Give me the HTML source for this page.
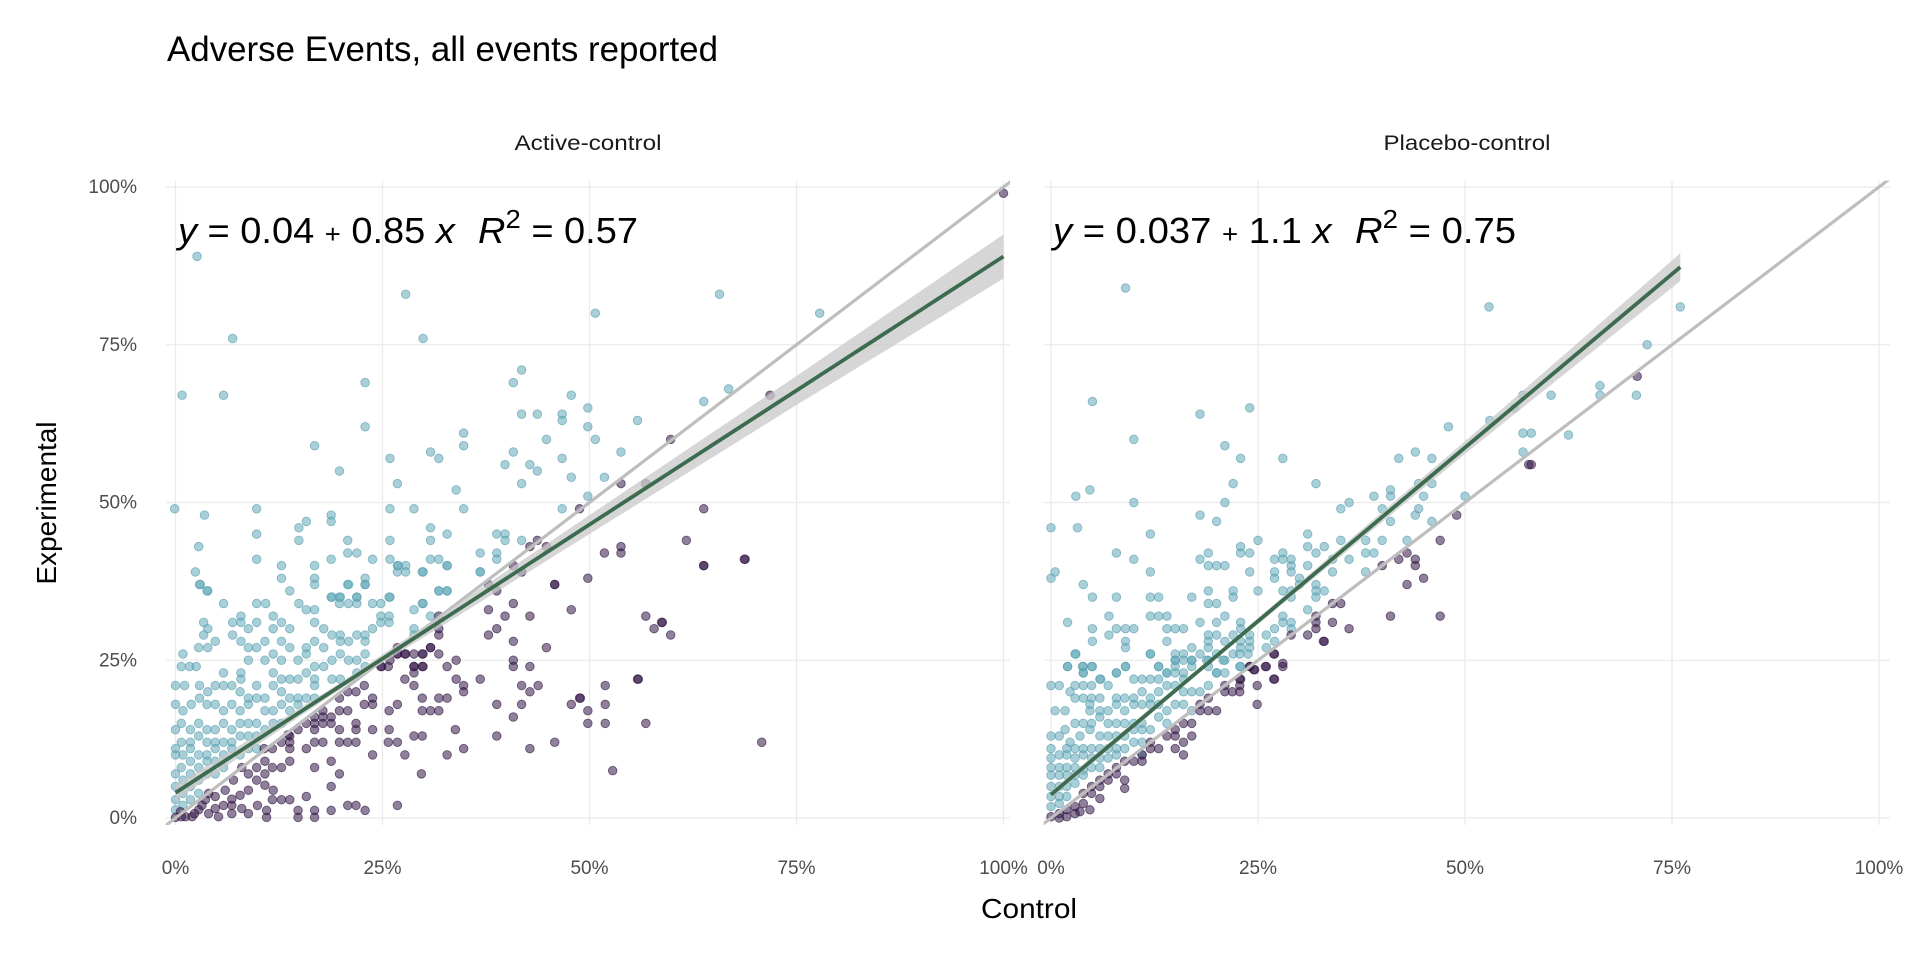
<!DOCTYPE html>
<html><head><meta charset="utf-8">
<style>
html,body{margin:0;padding:0;background:#fff;}
svg{display:block;}
.t{font-family:"Liberation Sans Narrow","Liberation Sans",sans-serif;}
.eq{font-family:"Liberation Sans",sans-serif;}
</style></head>
<body>
<svg id="chart" width="1920" height="960" viewBox="0 0 1920 960">
<defs>
<clipPath id="clipA"><rect x="165.7" y="180.6" width="844.3" height="644.4"/></clipPath>
<clipPath id="clipP"><rect x="1043.7" y="180.6" width="846.3" height="644.4"/></clipPath>
</defs>
<text class="t" x="167" y="61" font-size="35" fill="#000" textLength="551" lengthAdjust="spacingAndGlyphs">Adverse Events, all events reported</text>
<text class="t" x="588" y="150" font-size="21" fill="#1a1a1a" text-anchor="middle" textLength="147" lengthAdjust="spacingAndGlyphs">Active-control</text>
<text class="t" x="1467" y="150" font-size="21" fill="#1a1a1a" text-anchor="middle" textLength="167" lengthAdjust="spacingAndGlyphs">Placebo-control</text>
<text class="t" x="1029" y="918" font-size="28" fill="#000" text-anchor="middle" textLength="96" lengthAdjust="spacingAndGlyphs">Control</text>
<text class="t" x="0" y="0" font-size="28" fill="#000" text-anchor="middle" textLength="163" lengthAdjust="spacingAndGlyphs" transform="translate(56,503) rotate(-90)">Experimental</text>
<g id="grid"></g>
<g id="panelA" clip-path="url(#clipA)"></g>
<g id="panelP" clip-path="url(#clipP)"></g>
<g id="labels"></g>
</svg>
<script>
const ticks = [0, 25, 50, 75, 100];
const tickLabels = ["0%", "25%", "50%", "75%", "100%"];
const fitActive = [4.0, 0.85];
const fitPlacebo = [3.7, 1.1];
const fitRangeActive = [0, 100];
const fitRangePlacebo = [0, 76];
const bandXActive = [0, 20, 50, 75, 100];
const bandSEActive = [1.2, 0.5, 1.5, 2.3, 3.5];
const bandXPlacebo = [0, 20, 50, 76];
const bandSEPlacebo = [0.6, 0.4, 1.0, 2.2];
const activeAbove = [[2.6,89],[27.8,83],[29.9,76],[6.9,76],[50.7,80],[65.7,83],[77.8,80],[0.8,67],[5.8,67],[22.9,69],[41.8,71],[40.8,69],[47.8,67],[66.8,68],[63.8,66],[41.8,64],[43.7,64],[46.7,64],[46.7,63],[49.8,65],[49.8,62],[50.7,60],[55.8,63],[22.9,62],[16.8,59],[34.8,61],[34.8,59],[44.8,60],[19.8,55],[25.9,57],[30.8,58],[31.8,57],[40.8,58],[39.8,56],[42.8,56],[43.7,55],[46.7,57],[47.8,54],[51.8,54],[53.8,58],[26.8,53],[41.8,53],[33.9,52],[49.8,51],[-0.1,49],[3.5,48],[9.8,49],[25.9,49],[28.8,49],[34.8,49],[46.7,49],[2.8,43],[9.8,45],[14.9,46],[15.8,47],[18.8,48],[18.8,47],[14.9,44],[20.8,44],[25.9,44],[30.8,46],[30.8,44],[32.8,45],[38.8,45],[39.8,45],[39.8,44],[41.8,44],[2.4,39],[9.8,41],[12.8,40],[16.8,40],[18.8,41],[20.8,42],[21.9,42],[23.8,41],[25.9,41],[26.8,40],[27.8,40],[26.8,39],[29.9,39],[30.8,41],[31.8,41],[32.8,40],[36.8,42],[36.8,39],[38.8,42],[38.8,41],[3,37],[3.9,36],[12.8,38],[16.8,38],[16.8,37],[22.9,38],[22.9,37],[20.8,37],[13.8,36],[5.8,34],[9.8,34],[10.9,34],[14.9,34],[18.8,35],[19.8,35],[19.8,34],[21.9,35],[21.9,34],[23.8,34],[25.9,35],[29.9,34],[31.8,36],[32.8,36],
[26.9,40],[27.8,39],[32.8,40],[36.8,39],[29.8,39],[2.9,37],[3.8,36],[20.9,37],[22.9,37],[31.8,36],[32.8,36],[15.8,33],[16.8,33],[18.9,35],[19.9,35],[20.9,34],[21.9,35],[24.8,34],[25.8,35],[28.8,33],[29.8,34],[30.8,32],[3.4,31],[3.9,30],[6.9,31],[7.9,32],[7.9,31],[8.8,30],[9.8,31],[11.8,32],[12.8,31],[11.8,30],[13.8,30],[16.8,31],[17.9,30],[18.9,29],[19.9,29],[19.9,28],[20.9,28],[21.9,29],[22.9,29],[22.9,28],[23.8,30],[24.8,32],[24.8,31],[25.8,32],[25.8,31],[28.8,30],[28.8,29],[3.4,29],[4.8,28],[2.8,27],[3.9,27],[0.9,26],[6.9,29],[7.9,28],[8.8,27],[9.8,27],[10.8,28],[12.8,28],[13.8,27],[15.8,27],[15.8,26],[16.8,28],[17.9,27],[18.9,25],[19.9,26],[20.9,25],[21.9,25],[22.9,26],[8.8,25],[10.8,25],[11.8,26],[12.8,25],[14.8,25],[16.8,24],[17.9,24],[0.7,24],[1.7,24],[2.5,24],[5.8,23],[7.9,22],[7.9,23],[9.8,21],[11.8,23],[11.8,21],[12.8,22],[13.8,22],[14.8,22],[15.8,23],[16.8,22],[18.9,22],[19.9,22],[21.9,23],[22.9,24],[0,21],[1.1,21],[2.9,21],[3.9,20],[4.8,21],[5.8,21],[6.8,21],[7.8,20],[8.8,19],[9.8,19],[10.8,19],[12.8,20],[13.8,19],[14.8,19],[15.8,19],[16.8,21],[16.8,19],[0,18],[0.9,17],[1.9,18],[2.9,19],[3.8,18],[4.8,18],[5.8,17],[6.8,18],[7.8,17],[8.8,18],[10.8,17],[11.8,17],[12.8,18],[13.8,17],[14.8,18],[0,14],[0.7,15],[1.8,14],[2.8,15],[3.8,14],[4.8,14],[5.8,15],[6.8,14],[7.8,15],[8.8,15],[9.8,15],[10.8,14],[11.8,15],[12.8,15],[9.8,13],[8.8,13],[7.8,13],[6.8,12],[5.8,12],[4.8,12],[3.8,12],[2.8,13],[1.8,12],[0.7,12],[0,11],[0.9,10],[0,10],[1.8,11],[2.8,10],[3.8,10],[4.8,11],[5.8,10],[6.8,11],[7.8,10],[8.8,11],[9.8,11],[3.8,9],[4.8,9],[5.8,8],[2.8,8],[1.8,9],[0.7,8],[0,7],[0.9,6],[1.8,7],[2.8,6],[3.8,7],[4.8,7],[0,5],[0.9,3.9],[0,2.9],[1.8,5],[2.8,3.9],[0.9,2],[0,1.3],[1.8,2.9]];
const activeBelow = [[100,99],[59.8,60],[71.8,67],[53.8,53],[56.8,53],[48.8,49],[63.8,49],[43.7,44],[42.8,43],[44.8,43],[61.7,44],[51.8,42],[53.8,43],[53.8,42],[68.8,41],[63.8,40],[40.8,40],[41.8,39],[49.8,38],[45.8,37],[37.8,37],[38.8,36],[40.8,34],[37.8,33],[47.8,33],[39.8,32],[42.8,32],[56.8,32],[58.8,31],[57.8,30],[59.8,29],[31.8,32],[31.8,30],[31.8,29],[37.8,29],[38.8,30],[40.8,28],[44.8,27],[30.8,27],[26.8,27],[26.8,26],[27.8,26],[29.9,26],[31.8,26],[33.9,25],[32.8,24],[40.8,25],[40.8,24],[42.8,24],[28.8,24],[29.9,24],[25.9,25],[24.9,24],[55.8,22],
[63.8,40],[68.7,41],[58.7,31],[55.9,22],[51.9,21],[48.9,19],[51.9,18],[49.8,17],[49.8,15],[51.9,15],[56.8,15],[70.8,12],[52.8,7.5],
[41.8,39],[45.8,37],[43.8,21],[42.8,20],[48.8,19],[47.8,18],[41.8,18],[38.8,18],[40.8,16],[33.8,14],[38.8,13],[45.8,12],[42.8,11],[34.8,11],[32.8,10],[29.7,7],[26.8,2],[27.7,10],[29.8,13],[28.8,13],[25.7,12],[26.8,12],[30.8,17],[31.8,17],[29.8,17],[29.8,19],[31.8,19],[32.8,19],[28.8,21],[27.7,22],[28.8,23],[29.8,24],[28.8,24],[30.8,27],[29.8,26],[28.8,26],[27.7,26],[26.8,26],[25.7,24],[24.8,24],[36.8,22],[33.9,22],[34.8,21],[34.8,20],[41.8,21],[26.8,18],[25.8,17],[23.8,14],[25.8,14],[23.8,10],[21.8,12],[20.8,12],[19.8,12],[21.8,14],[19.8,14],[20.8,17],[21.8,15],[18.8,15],[17.8,15],[16.8,15],[15.8,15],[18.8,16],[17.8,16],[16.8,16],[20.8,20],[21.8,20],[22.8,21],[23.8,19],[23.8,18],[22.8,18],[19.8,19],[19.8,17],[17.8,17],[16.8,14],[14.8,14],[13.8,13],[13.8,12],[12.8,12],[11.7,11],[10.7,11],[13.8,11],[15.8,11],[17.8,12],[16.8,12],[18.8,9],[13.8,9],[11.7,8],[12.8,8],[16.8,8],[19.8,7],[18.8,5],[15.8,3.4],[14.8,1.2],[16.8,1.2],[14.8,0.1],[16.8,0.1],[18.8,1.2],[20.8,2],[21.8,2],[22.9,1.2],[11,0.1],[11,1.2],[9.9,2],[12.8,2.9],[13.8,2.9],[11.7,2.9],[11.8,4.4],[10.8,5.2],[9.8,6],[8.8,7],[9.8,8],[10.8,7],[10.8,9],[8,8],[7,6],[6.8,3],[6,4.4],[4.8,3.4],[4,3.9],[3.2,2],[2.3,0.7],[1.2,0.2],[0,0.1],[4,0.7],[5.2,0.2],[6.8,0.7],[8,1.5],[8.8,4.4],[7.8,3.6],[6.8,2],[5.8,2],[4.8,1.5],[3.6,2.9],[2.8,1.3],[2,0.2],[0.6,1],[0.7,0.2],[8.8,0.7],[13.6,13.2]];
const placeboAbove = [[9,84],[52.9,81],[5,66],[18,64],[24,65],[10,60],[21,59],[22.9,57],[28,57],[22,53],[32,53],[3,51],[4.7,52],[10,50],[21,50],[0,46],[3.2,46],[12,45],[18,48],[20,47],[25,44],[7.9,42],[10,41],[12,39],[0,38],[0.5,39],[3.9,37],[5,35],[7.9,35],[12,35],[13,35],[2,31],[5,30],[5,28],[7,32],[7.9,30],[9,30],[10,30],[9,28],[9,27],[7,29],[12,32],[13,32],[14,32],[14,30],[15,30],[16,30],[14,28],[12,26],[3,26],[2,24],[3.9,24],[5,24],[3.9,23],[7.9,23],[9,24],[6,22],[17,35],[19,42],[18,41],[19,40],[20,40],[21,40],[22.9,42],[22.9,43],[24,42],[24,39],[22,36],[22,35],[19,36],[19,34],[20,34],[25,36],[21,32],[18,31],[20,31],[22.9,31],[22.9,30],[19,29],[20,29],[22,29],[24,29],[19,28],[21,28],[22.9,28],[24,28],[17,27],[19,27],[22.9,27],[24,27],[16,26],[15,26],[18,26],[20,26],[22,26],[15,25],[16,25],[17,25],[19,25],[21,25],[13,24],[15,24],[17,24],[19,24],[22.9,24],[14,23],[16,23],[20,23],[21,23],[26,27],[26,29],[27,28],[27,30],[28,31],[29,31],[29,30],[27,39],[27,38],[27,41],[28,42],[28,41],[29,40],[29,41],[29,39],[30,38],[30,37],[28,36],[29,36],[29,35],[28,32],[31,45],[31,43],[32,42],[33,43],[31,40],[32,37],[32,36],[33,36],[32,35],[31,33],[35,49],[36,50],[35,44],[34,41],[34,39],[36,41],[38,44],[38,42],[38,39],[39,42],[39,51],[40,49],[40,44],[41,52],[41,51],[41,47],[42,57],[43,44],[44,58],[44,48],[44.4,49],[45,51],[44.4,53],[46,57],[46,53],[46,47],[48,62],[50,51],[53,63],[56,65],[57,67],[57,58],[58,61],[62.5,60.7],[57,61],[60.4,67],[66.3,67],[66.3,68.5],[70.7,67],[72,75],[76,81],
[2.9,26],[2,24],[3.8,24],[4.9,24],[3.9,23],[5.9,22],[7.9,23],[9,24],[12,26],[13,24],[0,21],[1,21],[2.9,21],[3.9,21],[4.9,21],[6.9,21],[2.3,20],[2.9,19],[3.9,19],[4.9,19],[5.9,19],[7.9,19],[8.9,19],[10,19],[11,20],[12,19],[13,20],[14,21],[15,23],[16,22],[17,25],[15,25],[10,22],[11,22],[12,22],[13,22],[14,23],[15,21],[16,20],[17,20],[18,20],[19,21],[20,23],[18.8,25],[20.8,25],[22.8,26],[22.8,24],[23.8,26],[0.5,17],[1.7,17],[2.9,15],[3.9,15],[4.7,18],[4.7,17],[5.9,17],[6.9,17],[7.9,18],[8.9,17],[10,18],[11,18],[12,18],[13,18],[14,17],[15,18],[16,18],[17,17],[13,16],[14,15],[11,15],[10,15],[8.9,15],[7.9,15],[6.9,15],[5.9,16],[4.9,15],[1.7,14],[0,13],[1,13],[2.3,12],[3.5,13],[4.7,14],[5.9,13],[6.9,13],[7.9,13],[8.9,13],[10,14],[11,14],[12,14],[11,12],[10,12],[8.9,11],[7.9,11],[6.9,11],[5.9,11],[4.9,11],[3.9,11],[2.9,11],[1.9,11],[0,11],[1,10],[0,9.5],[1.9,10],[2.9,9.5],[3.9,10],[4.9,9.5],[5.9,9.5],[6.9,9.5],[7.9,10],[0,8],[1,8],[1.9,8],[2.9,8],[3.9,7.6],[4.9,8],[5.9,8],[0,6.8],[1,6.8],[1.9,6.8],[2.9,6.8],[3.9,6.8],[0,5],[1,5],[1.9,5],[2.9,5.5],[0,3.4],[1,3.4],[1.9,3.4],[0,1.8],[1,2.3],[11,10]];
const placeboBelow = [[58,56],[49,48],[47,44],[43,42],[42,41],[40,40],[44,41],[44,40],[45,38],[43,37],[47,32],[41,32],[34,34],[35,34],[32,32],[32,31],[34,31],[32,30],[36,30],[31,29],[33,28],[29,29],[27,26],[28,24],[26,24],[24,24],[24.5,23.5],[27,22],[22.9,22],[70.8,70],[57.7,56],
[32.9,28],[26.9,26],[28,24.5],[25.9,24],[24,24],[24.6,23.5],[26.9,22],[22.8,22],[21,21],[22.8,21],[22.8,20],[21,20],[21.9,20],[24.9,21],[24.9,18],[19,19],[18,18],[18,17],[19,17],[20,17],[16,15],[17,15],[15,14],[14,13],[15,13],[16,12],[17,13],[12,12],[13,11],[15,11],[16,10],[11,10],[12,11],[11,9],[10,9],[8.9,9],[7.9,8],[7.9,7],[8.9,6],[8.9,4.7],[6.9,7],[5.9,6],[6.9,6],[4.9,5],[5.9,5],[3.9,3.9],[4.9,3.9],[5.9,3.1],[4.7,1.3],[3.9,2.3],[2.9,1.8],[3.5,1],[1.9,1.3],[1,0.7],[0,0.2],[1.9,0.2],[2.9,0.7],[1,0]];

const NS = "http://www.w3.org/2000/svg";
const Y0 = 818, YS = 6.31, XS = 8.28;
const panels = [
  {g: "panelA", x0: 175.5, left: 165.7, right: 1010, above: activeAbove, below: activeBelow, fit: fitActive, range: fitRangeActive, bx: bandXActive, bs: bandSEActive},
  {g: "panelP", x0: 1051, left: 1043.7, right: 1890, above: placeboAbove, below: placeboBelow, fit: fitPlacebo, range: fitRangePlacebo, bx: bandXPlacebo, bs: bandSEPlacebo}
];
const yPix = v => Y0 - v * YS;
function mk(tag, attrs, parent) {
  const el = document.createElementNS(NS, tag);
  for (const k in attrs) el.setAttribute(k, attrs[k]);
  parent.appendChild(el);
  return el;
}
function interp(xs, ys, x) {
  for (let i = 0; i < xs.length - 1; i++) {
    if (x <= xs[i + 1]) { const t = (x - xs[i]) / (xs[i + 1] - xs[i]); return ys[i] + t * (ys[i + 1] - ys[i]); }
  }
  return ys[ys.length - 1];
}
const grid = document.getElementById("grid");
const labels = document.getElementById("labels");
panels.forEach(p => {
  const xPix = v => p.x0 + v * XS;
  ticks.forEach((t, i) => {
    const v = mk("line", {x1: xPix(t), x2: xPix(t), y1: 180.6, y2: 825, stroke: "#ebebeb", "stroke-width": 1.3}, grid);
    
    
    const h = mk("line", {x1: p.left, x2: p.right, y1: yPix(t), y2: yPix(t), stroke: "#ebebeb", "stroke-width": 1.3}, grid);
    
    
    const xl = mk("text", {x: xPix(t), y: 874, "font-size": 19, fill: "#4d4d4d", "text-anchor": "middle", class: "t"}, labels);
    xl.textContent = tickLabels[i];
    
    
  });
  const g = document.getElementById(p.g);
  const drawPts = (arr, fill, stroke, name) => {
    arr.forEach(d => {
      const c = mk("circle", {cx: xPix(d[0]), cy: yPix(d[1]), r: 4.3, fill: fill, "fill-opacity": 0.55, stroke: stroke, "stroke-opacity": 0.6, "stroke-width": 0.9}, g);
      
      
    });
  };
  drawPts(p.above, "#62aab9", "#4f98a8", "point-experimental-higher");
  drawPts(p.below, "#341848", "#2a103c", "point-control-higher");
  const idl = mk("line", {x1: xPix(-5), y1: yPix(-5), x2: xPix(110), y2: yPix(110), stroke: "#bebebe", "stroke-width": 3.2}, g);
  
  
  const N = 40, up = [], lo = [], line = [];
  for (let i = 0; i <= N; i++) {
    const x = p.range[0] + (p.range[1] - p.range[0]) * i / N;
    const y = p.fit[0] + p.fit[1] * x;
    const s = interp(p.bx, p.bs, x);
    up.push(xPix(x) + "," + yPix(y + s));
    lo.unshift(xPix(x) + "," + yPix(y - s));
    line.push(xPix(x) + "," + yPix(y));
  }
  const band = mk("polygon", {points: up.concat(lo).join(" "), fill: "#c8c8c8", "fill-opacity": 0.75}, g);
  
  
  const fl = mk("polyline", {points: line.join(" "), fill: "none", stroke: "#3d6b50", "stroke-width": 3.8}, g);
  
  
});
ticks.forEach((t, i) => {
  const yl = mk("text", {x: 137, y: yPix(t) + 6, "font-size": 19, fill: "#4d4d4d", "text-anchor": "end", class: "t"}, labels);
  yl.textContent = tickLabels[i];
  
  
});
const eqs = [{x: 178, w: 460, a: "0.04", b: "0.85", r: "0.57", name: "equation-active"}, {x: 1053, w: 463, a: "0.037", b: "1.1", r: "0.75", name: "equation-placebo"}];
eqs.forEach(e => {
  const t = mk("text", {x: e.x, y: 243, "font-size": 36, fill: "#000", class: "eq", textLength: e.w, lengthAdjust: "spacingAndGlyphs"}, labels);
  
  
  t.innerHTML = '<tspan font-style="italic">y</tspan><tspan> = ' + e.a + ' </tspan><tspan font-size="26">+</tspan><tspan> ' + e.b + ' </tspan><tspan font-style="italic">x</tspan><tspan dx="22" font-style="italic">R</tspan><tspan dy="-15" font-size="26">2</tspan><tspan dy="15"> = ' + e.r + '</tspan>';
});
</script>
</body></html>
